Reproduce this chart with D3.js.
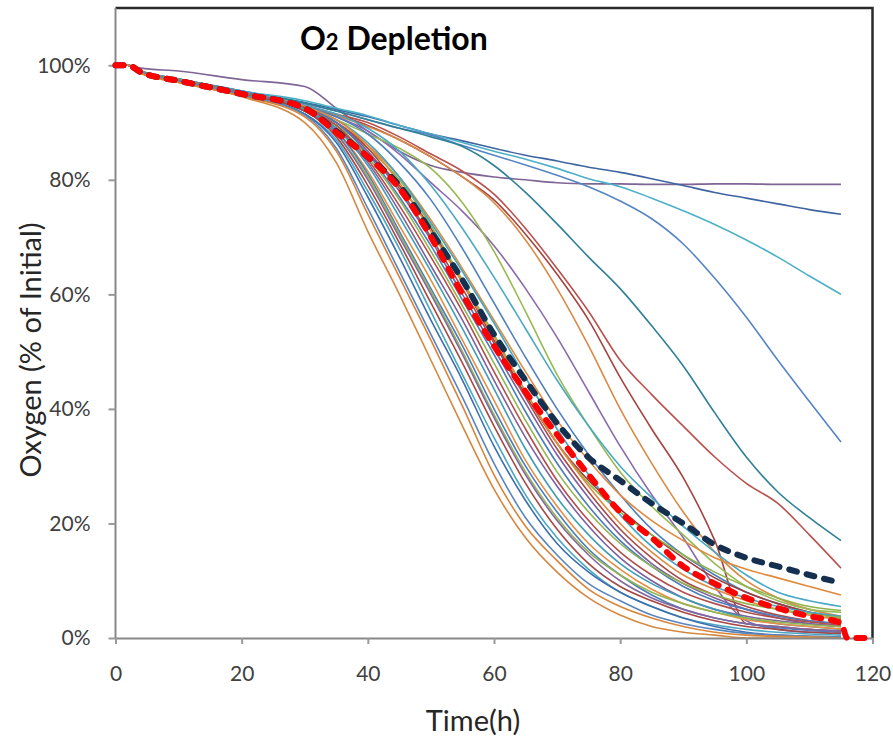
<!DOCTYPE html>
<html>
<head>
<meta charset="utf-8">
<script src="https://cdn.jsdelivr.net/npm/d3@7"></script>
<style>
  body { margin: 0; background: #fff; }
  svg { display: block; }
</style>
</head>
<body>
<svg id="chart" width="893" height="744"></svg>
<script>
// sampling times (h) shared by every run
const hours = [0, 2, 4, 10, 20, 30, 35, 40, 45, 50, 55, 60, 65, 70, 75, 80, 85, 90, 95, 100, 105, 110, 115];
const meanHours = [0, 2, 4, 10, 20, 30, 35, 40, 45, 50, 55, 60, 65, 70, 75, 80, 85, 90, 95, 100, 105, 110, 115, 116, 120];

// oxygen, % of initial
// fast-depleting bundle
const runL1  = [100,100,98.6,97,94.5,90,83,71,60,48.5,37,26,17.5,11.5,7,4,2,1,0.5,0,0,0,0];
const runB1  = [100,100,98.6,97,94.6,91,85,74,63,52,40.5,28.5,19.5,13.5,8.5,5.5,3.5,2,1,0.5,0.3,0.2,0];
const runB2  = [100,100,98.7,97.1,94.8,91.3,85.5,75,64,53,42,30.5,21,14.5,9.5,6.5,4,2.5,1.5,0.8,0.5,0.3,0.2];
const runB17 = [100,100,98.7,97.1,94.7,91.5,86.5,77,66.5,55.5,45,33.5,24,16.5,11.5,8,5.5,3.5,2,1,0.5,0.3,0.2];
const runB3  = [100,100,98.7,97.2,94.8,91.5,87,78,68,57,46,35,25,17.5,12,8,5.5,3.5,2.3,1.5,1,0.7,0.5];
const runB4  = [100,100,98.7,97.2,94.9,92,87.5,79,69,58.5,48,37,27,19,13,9,6.5,4.5,3,2,1.5,1,0.8];
const runB5  = [100,100,98.8,97.3,95,92,88,80,70,60,49.5,38.5,28.5,20.5,14.5,10,7,5,3.5,2.5,2,1.5,1.2];
const runB18 = [100,100,98.8,97.3,95,92,88,80.5,70.5,60.5,50,39,29,21,15,11,8,6,4.5,3.5,2.8,2.3,2];
const runB6  = [100,100,98.8,97.3,95,92,88.5,81,71,61,51,40,30,22,15.5,11,7.5,5,3.5,2.5,1.8,1.3,1];
const runB7  = [100,100,98.8,97.3,95,92,88.5,81.5,72,62.5,52,41.5,31,23,16.5,12,8.5,6,4.5,3.2,2.5,2,1.6];
const runB8  = [100,100,98.8,97.4,95.1,92.3,89,82.5,73.5,64,54,43.5,33,24.5,18,13,9.5,7,5,3.5,2.5,2,1.5];
const runB9  = [100,100,98.8,97.4,95.1,92.3,89,83,74.5,65,55.5,45,35,26.5,19.5,14,10,7,5,3.8,3,2.5,2];
const runB10 = [100,100,98.8,97.4,95.2,92.5,89.5,83.5,75.5,66.5,57,46.5,36.5,27.5,20.5,15,11,8,6,4.5,3.5,2.8,2.2];
const runB11 = [100,100,98.9,97.5,95.2,92.5,89.5,84,76.5,67.5,58,48,38,29,22,16.5,12.5,9.5,7.5,6,5,4.2,3.6];
const runB12 = [100,100,98.9,97.5,95.2,92.5,90,84.5,77,68.5,59,49.5,39.5,30.5,23,17,12.5,9,6.5,5,3.8,3,2.5];
const runB13 = [100,100,98.9,97.5,95.3,92.5,90,85,78,69.5,60,50.5,41,32,24.5,18,13,9.5,7,5,3.5,2.5,2];
const runB16 = [100,100,98.9,97.5,95.3,92.6,90,85.5,78.5,70,61,51.5,42,33,25.5,19,14,10,7.5,5.5,4,3,2.5];
const runB14 = [100,100,98.9,97.5,95.3,92.8,90.5,86,79.5,71,62,52.5,43,34,26.5,20,15,11,8.5,6.5,5,4,3.2];
const runB15 = [100,100,99,97.6,95.4,92.8,90.5,86.5,80.5,72.5,64,55,45.5,36.5,28.5,21.5,16,12,9,7,5.5,4.5,3.8];
// middle runs
const runGreen60  = [100,100,98.9,97.4,95.2,92.5,89.5,85.5,80,72,62.5,53,43,34,27,22,18,14.5,11.5,9,7,5.5,4.8];
const runBrown61  = [100,100,98.8,97.3,95,92.3,89,84.5,79,71.5,62,52,42.5,34,27.5,22.5,18,14,10.5,8,6,4.5,3.5];
const runOrange62 = [100,100,98.9,97.5,95.3,92.6,90,86,80.5,73,64.5,55.5,46.5,38,31,25,20.5,17,14,12,10.5,9,7.5];
const runBlue64   = [100,100,99,97.6,95.5,92.8,91,88,83,76.5,68,58.5,49,40,32,25,19,14.5,11,8,6,4.5,3.5];
const runTeal67   = [100,100,99,97.6,95.5,93,91.5,89,85,79,71.5,63,54,45,37,30,24.5,19.5,15,11,8,6.5,5.5];
const runGreen69  = [100,100,99,97.6,95.4,92.6,90.5,88,85.5,82,76,67.5,57,46,37,29,23,18,13,9,6.5,5,4.5];
const runPurple73 = [100,100,98.9,97.5,95.3,92.8,91,88.5,84.5,79.5,74.5,68.5,61,52.5,43,33.5,25,17.5,9,3,1.5,1,0.8];
const runOrange78 = [100,100,98.9,97.5,95.3,92.8,91.2,89.3,87,84,80.5,76,69.5,61,51,40,30.5,22,15,10,7,5,3.8];
const runRed79    = [100,100,98.9,97.4,95.2,93,91.5,90,87.5,84.5,81.5,77.5,71.5,64.5,57,48.5,42.5,37,31.6,27,23.5,18,12.2];
const runRed80    = [100,100,98.8,97.3,95,92.8,91.3,89.5,87,84,80.5,76.5,70.5,63.5,55.5,45.5,36.5,28,17,2.5,2,1.5,1.2];
// slow runs
const runTeal89   = [100,100,99,97.5,95.3,93.4,92,90.5,89,87.5,85.8,82.5,77.8,72.3,66.5,61,54.5,47.5,39.3,31.6,25.5,21,17];
const runBlue105  = [100,100,99,97.5,95.3,93.3,92,90.5,89,87.8,86,84.3,82.6,80.8,78.8,76.3,73.2,68.8,62.8,56,48.5,41.3,34.2];
const runAqua     = [100,100,99,97.6,95.5,93.8,92.5,91.2,89.5,88,86.5,85,83.6,82,80.2,78.8,76.8,74.6,72.2,69.5,66.5,63.2,60];
const runNavy     = [100,100,99,97.6,95.5,93.5,92.3,91,89.5,88,86.8,85.5,84.3,83.3,82.2,81.3,80.2,79,77.8,76.8,75.8,74.8,74];
const runPurpleFlat = [100,100,99.5,99,97.5,96.3,92.5,88.5,85,82.5,81.3,80.5,80,79.5,79.3,79.3,79.2,79.2,79.3,79.3,79.2,79.2,79.2];

// the two averaged curves
const meanDark = [100,100,98.8,97.3,95,92.5,88.5,84,79,71,62.5,53,45,37.5,31.5,27.5,23.5,20,16.3,14,12.5,11,9.6];
const meanRed  = [100,100,98.8,97.3,95,92.5,88.3,84,78.5,70,60,51,43,35.5,28.5,22,17.5,12.5,9.5,7,5.2,3.8,2.6,0,0];

const runs = [
  runPurpleFlat, runNavy, runAqua, runBlue105, runTeal89,
  runRed79, runRed80, runOrange78, runPurple73, runGreen69, runTeal67, runBlue64,
  runOrange62, runBrown61, runGreen60,
  runB15, runB14, runB16, runB13, runB12, runB11, runB10, runB9, runB8, runB7,
  runB6, runB18, runB5, runB4, runB3, runB17, runB2, runB1, runL1
];
const runColors = [
  "#7f6496", "#3f65a0", "#4bb0c8", "#5585c4", "#2f8197",
  "#b9514e", "#a5433f", "#d98a45", "#8a6aae", "#98b954", "#4aa9c3", "#4f7fbd",
  "#e0883c", "#9b3e3b", "#8fb24d",
  "#45a6c0", "#e08a3e", "#a94a47", "#7c5f9e", "#4c7cb9", "#93b450", "#b24f4c", "#7d60a0", "#3f9db7", "#e48f45",
  "#4a7ebb", "#94b652", "#84679f", "#a34845", "#4ba7c1", "#3d6fae", "#5a86bf", "#d98438", "#d4883f"
];

const xTicks = [0, 20, 40, 60, 80, 100, 120];
const yTicks = [0, 20, 40, 60, 80, 100];

const svg = d3.select("#chart");
const font = "Lato, 'Open Sans', sans-serif";

const x = d3.scaleLinear().domain([0, 120]).range([115.5, 872.5]);
const y = d3.scaleLinear().domain([0, 110]).range([638, 8]);

// frame: black top and right
svg.append("path")
  .attr("d", `M${x(0)},${y(110)}H${x(120)}V${y(0)}`)
  .attr("fill", "none")
  .attr("stroke", "#2a2a2a")
  .attr("stroke-width", 2.5);

const line = d3.line()
  .x(d => x(d[0]))
  .y(d => y(d[1]))
  .curve(d3.curveMonotoneX);

const g = svg.append("g");
runs.forEach((vals, k) => {
  g.append("path")
    .attr("d", line(hours.map((h, i) => [h, vals[i]])))
    .attr("fill", "none")
    .attr("stroke", runColors[k])
    .attr("stroke-width", 1.6)
    .attr("stroke-linejoin", "round");
});

// axes
const yAxis = d3.axisLeft(y).tickValues(yTicks).tickSize(7).tickPadding(18)
  .tickSizeOuter(0).tickFormat(d => d + "%");
const xAxis = d3.axisBottom(x).tickValues(xTicks).tickSize(6).tickPadding(22)
  .tickSizeOuter(0);

const ya = svg.append("g").attr("transform", `translate(${x(0)},0)`).call(yAxis);
const xa = svg.append("g").attr("transform", `translate(0,${y(0)})`).call(xAxis);
[ya, xa].forEach(a => {
  a.select(".domain").attr("stroke", "#888").attr("stroke-width", 2);
  a.selectAll(".tick line").attr("stroke", "#999").attr("stroke-width", 2);
  a.selectAll(".tick text")
    .attr("fill", "#404040")
    .style("font-family", font)
    .style("font-size", "21px");
});
ya.select(".domain").attr("d", `M0,${y(110)}V${y(0)}`);

// mean curves, dashed, on top
svg.append("path")
  .attr("d", line(hours.map((h, i) => [h, meanDark[i]])))
  .attr("fill", "none")
  .attr("stroke", "#15304f")
  .attr("stroke-width", 6)
  .attr("stroke-linecap", "round")
  .attr("stroke-dasharray", "8,10");

svg.append("path")
  .attr("d", line(meanHours.map((h, i) => [h, meanRed[i]])))
  .attr("fill", "none")
  .attr("stroke", "#ff0000")
  .attr("stroke-width", 6)
  .attr("stroke-linecap", "round")
  .attr("stroke-dasharray", "8,10");

// titles
const title = svg.append("text")
  .attr("x", 300).attr("y", 50)
  .attr("fill", "#000")
  .style("font-family", font)
  .style("font-weight", "bold")
  .style("font-size", "32px");
title.append("tspan").text("O");
title.append("tspan").style("font-size", "22px").text("2");
title.append("tspan").text(" Depletion");

svg.append("text")
  .attr("x", 473).attr("y", 731)
  .attr("text-anchor", "middle")
  .attr("fill", "#262626")
  .style("font-family", font)
  .style("font-size", "29px")
  .text("Time(h)");

svg.append("text")
  .attr("transform", "translate(41,350) rotate(-90)")
  .attr("text-anchor", "middle")
  .attr("fill", "#262626")
  .style("font-family", font)
  .style("font-size", "29px")
  .text("Oxygen (% of Initial)");
</script>
</body>
</html>
